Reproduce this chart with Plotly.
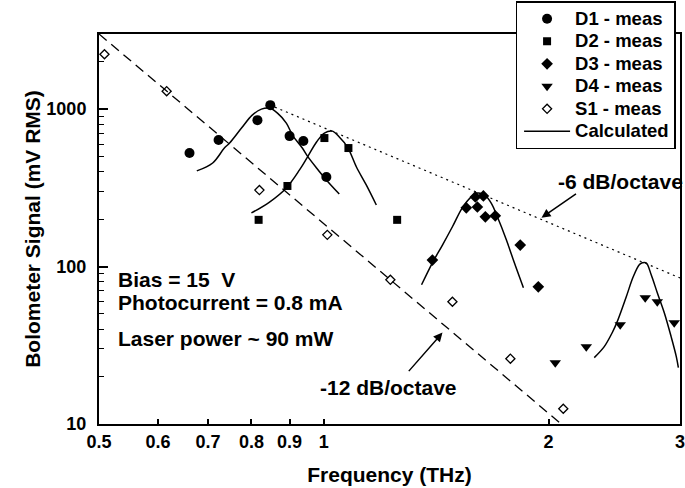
import math
import plotly.graph_objects as go

# ---------------- data ----------------
d1_freq = [0.661, 0.723, 0.815, 0.848, 0.900, 0.939, 1.008]
d1_sig = [526, 636, 851, 1060, 674, 627, 371]

d2_freq = [0.818, 0.894, 1.002, 1.079, 1.254]
d2_sig = [198, 325, 655, 566, 198]

d3_freq = [1.398, 1.552, 1.596, 1.606, 1.636, 1.646, 1.697, 1.833, 1.938]
d3_sig = [110, 236, 277, 239, 281, 207, 210, 137, 74.4]

d4_freq = [2.042, 2.247, 2.495, 2.695, 2.797, 2.947]
d4_sig = [24.5, 31.0, 42.7, 63.4, 59.8, 44.0]

s1_freq = [0.5085, 0.616, 0.820, 1.011, 1.228, 1.487, 1.778, 2.093]
s1_sig = [2232, 1300, 306, 159, 82.4, 59.8, 26.0, 12.5]

calc1_freq = [0.676, 0.710, 0.736, 0.748, 0.776, 0.802, 0.825, 0.846, 0.867, 0.891,
              0.908, 0.936, 0.951, 0.978, 1.008, 1.049]
calc1_sig = [405, 455, 566, 609, 758, 916, 1000, 1015, 943, 815,
             684, 566, 503, 423, 355, 289]

calc2_freq = [0.800, 0.846, 0.891, 0.928, 0.951, 0.978, 1.002, 1.027, 1.049, 1.076,
              1.106, 1.140, 1.176]
calc2_sig = [219, 257, 316, 411, 496, 618, 705, 725, 665, 574, 429, 330, 246]

calc3_freq = [1.352, 1.398, 1.442, 1.487, 1.533, 1.576, 1.606, 1.641, 1.676, 1.708,
              1.756, 1.800, 1.851]
calc3_sig = [76.6, 105.6, 137, 179, 236, 277, 293, 285, 253, 207, 148, 105.6, 73.3]

calc4_freq = [2.303, 2.375, 2.434, 2.472, 2.542, 2.597, 2.646, 2.671, 2.703, 2.745,
              2.797, 2.858, 2.919, 2.966, 2.985]
calc4_sig = [26.4, 31.0, 38.0, 44.7, 64.3, 86.1, 102.6, 105.6, 105.6, 88.7,
             68.2, 50.9, 35.9, 26.8, 22.8]

slope12_freq = [0.5, 2.08]
slope12_sig = [3000, 10]

slope6_freq = [0.86, 3.0]
slope6_sig = [1030, 84.7]

x_tickvals = [0.5, 0.6, 0.7, 0.8, 0.9, 1, 2, 3]
x_ticktext = ["0.5", "0.6", "0.7", "0.8", "0.9", "1", "2", "3"]
y_tickvals = [10, 100, 1000]
y_ticktext = ["10", "100", "1000"]
y_minor = [20, 30, 40, 50, 60, 70, 80, 90, 200, 300, 400, 500, 600, 700, 800, 900, 2000]

legend_names = ["D1 - meas", "D2 - meas", "D3 - meas", "D4 - meas", "S1 - meas", "Calculated"]

# ---------------- figure ----------------
FONT = "Liberation Sans, Arial, Helvetica, sans-serif"


def lname(s):
    return '<span style="font-size:18.5px">' + s + '</span>'


fig = go.Figure()

fig.add_trace(go.Scatter(x=slope12_freq, y=slope12_sig, mode="lines",
                         line=dict(color="black", width=1.3, dash="10px,6px"),
                         showlegend=False, hoverinfo="skip"))
fig.add_trace(go.Scatter(x=slope6_freq, y=slope6_sig, mode="lines",
                         line=dict(color="black", width=1.2, dash="2px,4px"),
                         showlegend=False, hoverinfo="skip"))

calc_x, calc_y = [], []
for cx, cy in [(calc1_freq, calc1_sig), (calc2_freq, calc2_sig),
               (calc3_freq, calc3_sig), (calc4_freq, calc4_sig)]:
    calc_x += cx + [None]
    calc_y += cy + [None]
fig.add_trace(go.Scatter(x=calc_x, y=calc_y, mode="lines", name=lname(legend_names[5]),
                         line=dict(color="black", width=1.5, shape="spline"),
                         connectgaps=False, legendrank=6))

fig.add_trace(go.Scatter(x=d1_freq, y=d1_sig, mode="markers", name=lname(legend_names[0]),
                         marker=dict(symbol="circle", size=10, color="black"), legendrank=1))
fig.add_trace(go.Scatter(x=d2_freq, y=d2_sig, mode="markers", name=lname(legend_names[1]),
                         marker=dict(symbol="square", size=8, color="black"), legendrank=2))
fig.add_trace(go.Scatter(x=d3_freq, y=d3_sig, mode="markers", name=lname(legend_names[2]),
                         marker=dict(symbol="diamond", size=9, color="black"), legendrank=3))
fig.add_trace(go.Scatter(x=d4_freq, y=d4_sig, mode="markers", name=lname(legend_names[3]),
                         marker=dict(symbol="triangle-down", size=10, color="black"), legendrank=4))
fig.add_trace(go.Scatter(x=s1_freq, y=s1_sig, mode="markers", name=lname(legend_names[4]),
                         marker=dict(symbol="diamond-open", size=7, color="black",
                                     line=dict(width=1.3, color="black")), legendrank=5))

ann_font = dict(family=FONT, size=21, color="black", weight="bold")
annotations = [
    dict(text="Bias = 15  V", x=0.029, y=0.370, xref="paper", yref="paper",
         xanchor="left", yanchor="middle", showarrow=False, font=ann_font),
    dict(text="Photocurrent = 0.8 mA", x=0.029, y=0.311, xref="paper", yref="paper",
         xanchor="left", yanchor="middle", showarrow=False, font=ann_font),
    dict(text="Laser power ~ 90 mW", x=0.029, y=0.219, xref="paper", yref="paper",
         xanchor="left", yanchor="middle", showarrow=False, font=ann_font),
    dict(text="-12 dB/octave", x=0.498, y=0.0935, xref="paper", yref="paper",
         xanchor="center", yanchor="middle", showarrow=False, font=ann_font),
    dict(text="-6 dB/octave", x=1.008, y=0.621, xref="paper", yref="paper",
         xanchor="right", yanchor="middle", showarrow=False, font=ann_font),
    dict(text="", x=0.5912, y=0.2343, xref="paper", yref="paper", showarrow=True,
         ax=-35, ay=40, arrowhead=2, arrowsize=1.2, arrowwidth=1.5, arrowcolor="black"),
    dict(text="", x=0.7616, y=0.5288, xref="paper", yref="paper", showarrow=True,
         ax=36, ay=-25, arrowhead=2, arrowsize=1.2, arrowwidth=1.5, arrowcolor="black"),
]

fig.update_layout(
    width=685, height=488,
    margin=dict(l=99, r=5, t=34, b=64, autoexpand=False),
    paper_bgcolor="white", plot_bgcolor="white",
    font=dict(family=FONT, size=18, color="black", weight="bold"),
    showlegend=True,
    legend=dict(x=0.717, y=1.0845, xanchor="left", yanchor="top",
                bordercolor="black", borderwidth=1.5, bgcolor="white",
                font=dict(family=FONT, size=15, color="black", weight="bold"),
                itemwidth=46, indentation=2, tracegroupgap=0),
    xaxis=dict(type="log", range=[math.log10(0.5), math.log10(3)],
               tickvals=x_tickvals, ticktext=x_ticktext, automargin=False,
               ticklabeloverflow="allow",
               ticks="inside", ticklen=5, tickwidth=1.5, tickcolor="black",
               showline=True, linecolor="black", linewidth=2, mirror=True,
               showgrid=False, zeroline=False,
               tickfont=dict(family=FONT, size=18, color="black", weight="bold"),
               title=dict(text="Frequency (THz)", standoff=17,
                          font=dict(family=FONT, size=21, color="black", weight="bold"))),
    yaxis=dict(type="log", range=[1, math.log10(3000)],
               tickvals=y_tickvals, ticktext=y_ticktext, automargin=False,
               ticklabeloverflow="allow",
               ticks="inside", ticklen=9, tickwidth=1.5, tickcolor="black",
               ticklabelstandoff=7,
               minor=dict(tickvals=y_minor, ticks="inside", ticklen=5,
                          tickwidth=1.2, tickcolor="black"),
               showline=True, linecolor="black", linewidth=2, mirror=True,
               showgrid=False, zeroline=False,
               tickfont=dict(family=FONT, size=18, color="black", weight="bold"),
               title=dict(text="Bolometer Signal (mV RMS)", standoff=0,
                          font=dict(family=FONT, size=21, color="black", weight="bold"))),
    annotations=annotations,
)

fig.write_html("out.html", config={"displayModeBar": False},
               post_script="document.body.style.margin='0px';")
